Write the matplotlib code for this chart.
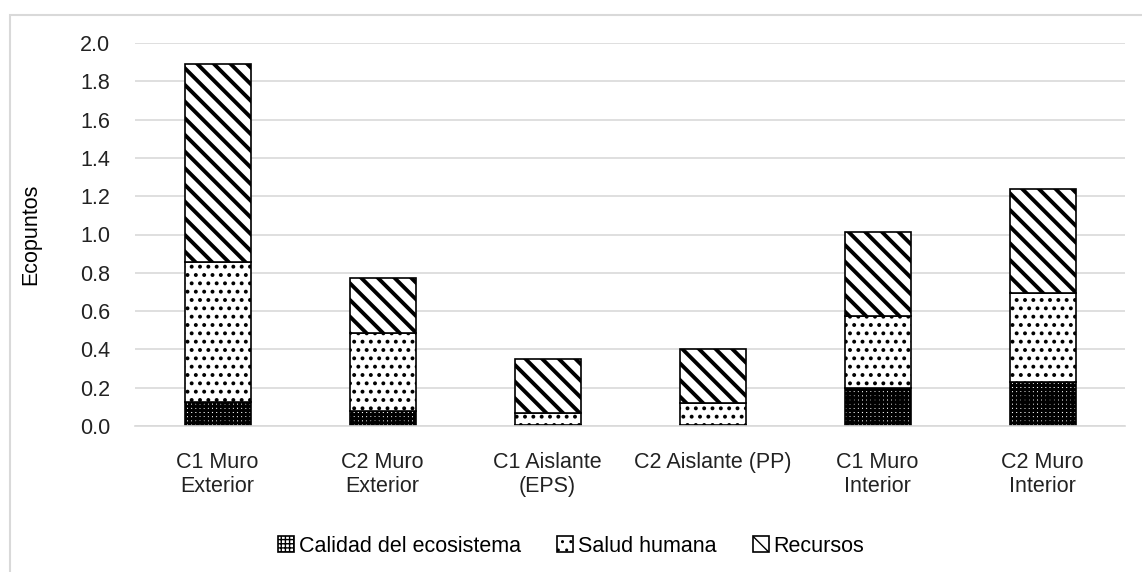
import matplotlib.pyplot as plt
from matplotlib.patches import Rectangle

categories = ["C1 Muro\nExterior", "C2 Muro\nExterior", "C1 Aislante\n(EPS)",
              "C2 Aislante (PP)", "C1 Muro\nInterior", "C2 Muro\nInterior"]
calidad = [0.125, 0.078, 0.005, 0.004, 0.198, 0.230]
salud = [0.731, 0.408, 0.063, 0.116, 0.376, 0.465]
recursos = [1.034, 0.287, 0.282, 0.282, 0.439, 0.543]
yticks = [0.0, 0.2, 0.4, 0.6, 0.8, 1.0, 1.2, 1.4, 1.6, 1.8, 2.0]

plt.rcParams['font.family'] = ['Liberation Sans', 'DejaVu Sans']
plt.rcParams['hatch.color'] = 'black'

fig = plt.figure(figsize=(11.42, 5.72), dpi=100)
fig.patches.append(Rectangle((10 / 1142, -0.1), 1.2, 1 - 15 / 572 + 0.1,
                             transform=fig.transFigure, fill=False,
                             edgecolor='#d9d9d9', linewidth=1.5))
ax = fig.add_axes([135 / 1142, 1 - 426 / 572, 990 / 1142, 383 / 572])

x = range(len(categories))
width = 0.4
series = [
    ("Calidad del ecosistema", calidad, '++++', 2.2),
    ("Salud humana", salud, '..', 1.6),
    ("Recursos", recursos, '\\\\', 2.8),
]
bottom = [0.0] * len(categories)
handles = []
for name, vals, hatch, hlw in series:
    bars = ax.bar(x, vals, width, bottom=bottom, color='white',
                  edgecolor='black', linewidth=1.2, hatch=hatch, label=name)
    for b in bars:
        if hasattr(b, 'set_hatch_linewidth'):
            b.set_hatch_linewidth(hlw)
    handles.append(bars)
    bottom = [b + v for b, v in zip(bottom, vals)]

ax.set_ylim(0, 2.0)
ax.set_xlim(-0.5, len(categories) - 0.5)
ax.set_yticks(yticks)
ax.set_yticklabels([f"{t:.1f}" for t in yticks])
ax.set_xticks(list(x))
ax.set_xticklabels(categories, linespacing=1.15)
ax.tick_params(length=0, labelsize=15.5, colors='#222222')
ax.tick_params(axis='y', pad=18)
ax.tick_params(axis='x', pad=19)
ax.grid(axis='y', color='#d9d9d9', linewidth=1.2)
ax.set_axisbelow(True)
for s in ['top', 'right', 'left']:
    ax.spines[s].set_visible(False)
ax.spines['bottom'].set_color('#d9d9d9')
ax.spines['bottom'].set_linewidth(1.2)
ax.set_ylabel("Ecopuntos", fontsize=15.5, labelpad=28)

leg = fig.legend(handles=handles, loc='center', bbox_to_anchor=(0.5, 1 - 546 / 572),
                 ncol=3, frameon=False, fontsize=15.5, handlelength=0.75,
                 handleheight=0.75, handletextpad=0.2, columnspacing=1.7)

fig.savefig("out.png", dpi=100)
